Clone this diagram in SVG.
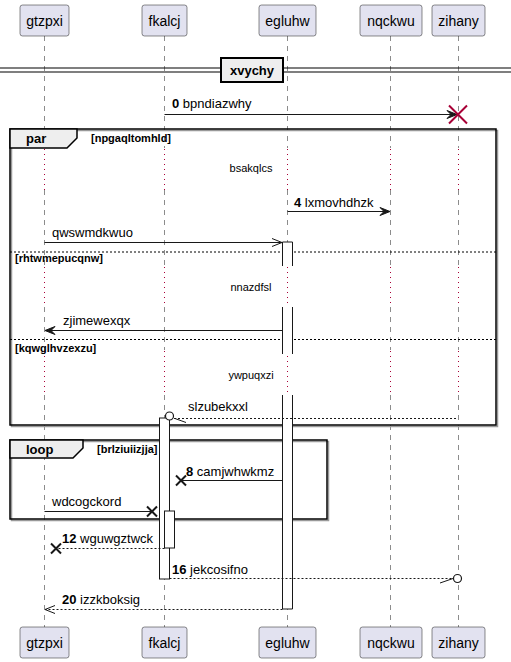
<svg xmlns="http://www.w3.org/2000/svg" width="511" height="662" viewBox="0 0 511 662">
<style>
  .pbox { fill: #E2E2F0; stroke: #181818; stroke-width: 0.5; }
  .pname { font-family: "Liberation Sans", Arial, sans-serif; font-size: 14px; fill: #000; text-anchor: middle; }
  .life { stroke: #181818; stroke-width: 0.5; stroke-dasharray: 5,5; fill: none; }
  .delay { stroke: #A80036; stroke-width: 1; stroke-dasharray: 1,4; fill: none; }
  .msg { stroke: #181818; stroke-width: 1; fill: none; }
  .dash { stroke-dasharray: 2,2; }
  .lbl { font-family: "Liberation Sans", Arial, sans-serif; font-size: 13px; fill: #000; }
  .num { font-weight: bold; }
  .small { font-family: "Liberation Sans", Arial, sans-serif; font-size: 11px; fill: #000; }
  .cond { font-family: "Liberation Sans", Arial, sans-serif; font-size: 11px; font-weight: bold; fill: #000; }
  .frame { fill: none; stroke: #000; stroke-width: 1.5; }
  .tab { fill: #EEEEEE; stroke: #000; stroke-width: 1.5; }
  .tabtxt { font-family: "Liberation Sans", Arial, sans-serif; font-size: 13px; font-weight: bold; fill: #000; }
  .sep { stroke: #000; stroke-width: 1; stroke-dasharray: 2,2; }
  .bar { fill: #FFFFFF; stroke: #181818; stroke-width: 1; }
  .head { fill: #181818; stroke: #181818; stroke-width: 1; }
  .xmark { stroke: #181818; stroke-width: 2; }
  .kill { stroke: #A80036; stroke-width: 2; }
</style>

<!-- lifelines (dashed) with delay segments (dotted) -->
<g id="lifelines">
  <path class="life" d="M44.5,36 V148 M44.5,190 V266 M44.5,307 V350 M44.5,395 V627"/>
  <path class="life" d="M164.5,36 V148 M164.5,190 V266 M164.5,307 V350 M164.5,395 V627"/>
  <path class="life" d="M287.5,36 V148 M287.5,190 V266 M287.5,307 V350 M287.5,395 V627"/>
  <path class="life" d="M390.5,36 V148 M390.5,190 V266 M390.5,307 V350 M390.5,395 V627"/>
  <path class="life" d="M458.5,36 V148 M458.5,190 V266 M458.5,307 V350 M458.5,395 V627"/>
  <path class="delay" d="M44.5,149 V190 M164.5,149 V190 M287.5,149 V190 M390.5,149 V190 M458.5,149 V190"/>
  <path class="delay" d="M44.5,267 V307 M164.5,267 V307 M287.5,267 V307 M390.5,267 V307 M458.5,267 V307"/>
  <path class="delay" d="M44.5,351 V395 M164.5,351 V395 M287.5,351 V395 M390.5,351 V395 M458.5,351 V395"/>
</g>

<!-- participants -->
<g id="gtzpxi">
  <rect class="pbox" x="20" y="5" width="49" height="31" rx="2.5"/>
  <text class="pname" x="44.5" y="26">gtzpxi</text>
  <rect class="pbox" x="20" y="627" width="49" height="31" rx="2.5"/>
  <text class="pname" x="44.5" y="648">gtzpxi</text>
</g>
<g id="fkalcj">
  <rect class="pbox" x="142" y="5" width="45" height="31" rx="2.5"/>
  <text class="pname" x="164.5" y="26">fkalcj</text>
  <rect class="pbox" x="142" y="627" width="45" height="31" rx="2.5"/>
  <text class="pname" x="164.5" y="648">fkalcj</text>
</g>
<g id="egluhw">
  <rect class="pbox" x="259" y="5" width="57" height="31" rx="2.5"/>
  <text class="pname" x="287.5" y="26">egluhw</text>
  <rect class="pbox" x="259" y="627" width="57" height="31" rx="2.5"/>
  <text class="pname" x="287.5" y="648">egluhw</text>
</g>
<g id="nqckwu">
  <rect class="pbox" x="360" y="5" width="62" height="31" rx="2.5"/>
  <text class="pname" x="391" y="26">nqckwu</text>
  <rect class="pbox" x="360" y="627" width="62" height="31" rx="2.5"/>
  <text class="pname" x="391" y="648">nqckwu</text>
</g>
<g id="zihany">
  <rect class="pbox" x="432" y="5" width="53" height="31" rx="2.5"/>
  <text class="pname" x="458.5" y="26">zihany</text>
  <rect class="pbox" x="432" y="627" width="53" height="31" rx="2.5"/>
  <text class="pname" x="458.5" y="648">zihany</text>
</g>

<!-- divider -->
<g id="divider">
  <line x1="0" y1="68" x2="511" y2="68" stroke="#000" stroke-width="1.2"/>
  <line x1="0" y1="72" x2="511" y2="72" stroke="#000" stroke-width="1.2"/>
  <rect x="221" y="58" width="62" height="24" fill="#EEEEEE" stroke="#000" stroke-width="2"/>
  <text class="tabtxt" x="252" y="75" text-anchor="middle">xvychy</text>
</g>

<!-- par fragment -->
<g id="par">
  <rect x="11.5" y="130.5" width="486" height="296" fill="none" stroke="#999" stroke-width="1.5"/>
  <rect class="frame" x="10" y="129" width="486" height="296"/>
  <path class="tab" d="M10,129 H77 V138 L67,148 H10 Z"/>
  <text class="tabtxt" x="26" y="143">par</text>
  <text class="cond" x="91" y="142">[npgaqltomhld]</text>
  <line class="sep" x1="10" y1="252" x2="496" y2="252"/>
  <text class="cond" x="15" y="262">[rhtwmepucqnw]</text>
  <line class="sep" x1="10" y1="339.5" x2="496" y2="339.5"/>
  <text class="cond" x="15" y="352">[kqwglhvzexzu]</text>
  <text class="small" x="251" y="172" text-anchor="middle">bsakqlcs</text>
  <text class="small" x="251" y="291" text-anchor="middle">nnazdfsl</text>
  <text class="small" x="251" y="379" text-anchor="middle">ywpuqxzi</text>
</g>

<!-- loop fragment -->
<g id="loop">
  <rect x="11.5" y="441.5" width="317" height="79" fill="none" stroke="#999" stroke-width="1.5"/>
  <rect class="frame" x="10" y="440" width="317" height="79"/>
  <path class="tab" d="M10,440 H83 V448 L73,458 H10 Z"/>
  <text class="tabtxt" x="26" y="454">loop</text>
  <text class="cond" x="97" y="453">[brlziuiizjja]</text>
</g>

<!-- activation bars -->
<g id="activations">
  <rect x="282.5" y="242" width="10" height="24" fill="#FFF"/>
  <path class="msg" d="M282.5,266 V242 H292.5 V266"/>
  <rect x="282.5" y="307" width="10" height="47" fill="#FFF"/>
  <path class="msg" d="M282.5,307 V354 M292.5,307 V354"/>
  <rect x="282.5" y="395" width="10" height="214" fill="#FFF"/>
  <path class="msg" d="M282.5,395 V609 H292.5 V395"/>
  <rect class="bar" x="159.5" y="418" width="10" height="161"/>
  <rect class="bar" x="164.5" y="511" width="10" height="37"/>
</g>

<!-- messages -->
<g id="connectors">
  <!-- 0 fkalcj -> zihany, destroyed -->
  <line class="msg" x1="164.5" y1="114.5" x2="456" y2="114.5"/>
  <polygon class="head" points="457,114.5 447,110.5 451,114.5 447,118.5"/>
  <path class="kill" d="M449,105.5 L467,123.5 M467,105.5 L449,123.5"/>
  <text class="lbl" x="172" y="108"><tspan class="num">0</tspan> bpndiazwhy</text>

  <!-- 4 egluhw -> nqckwu -->
  <line class="msg" x1="287.5" y1="211.5" x2="389" y2="211.5"/>
  <polygon class="head" points="390,211.5 380,207.5 384,211.5 380,215.5"/>
  <text class="lbl" x="294" y="207"><tspan class="num">4</tspan> lxmovhdhzk</text>

  <!-- gtzpxi -> egluhw async -->
  <line class="msg" x1="44.5" y1="242.5" x2="282" y2="242.5"/>
  <path class="msg" d="M272,238.5 L282,242.5 L272,246.5"/>
  <text class="lbl" x="52" y="237">qwswmdkwuo</text>

  <!-- egluhw -> gtzpxi -->
  <line class="msg" x1="282.5" y1="330.5" x2="46" y2="330.5"/>
  <polygon class="head" points="45,330.5 55,326.5 51,330.5 55,334.5"/>
  <text class="lbl" x="63" y="325">zjimewexqx</text>

  <!-- zihany -> fkalcj, dotted with circle end -->
  <line class="msg dash" x1="174" y1="418.5" x2="456" y2="418.5"/>
  <circle cx="169.5" cy="416" r="4" fill="#FFF" stroke="#181818" stroke-width="1.2"/>
  <line class="msg" x1="175" y1="418.5" x2="186" y2="422.5"/>
  <text class="lbl" x="188" y="411">slzubekxxl</text>

  <!-- 8 egluhw -> lost at fkalcj -->
  <line class="msg" x1="282.5" y1="480.5" x2="181" y2="480.5"/>
  <path class="xmark" d="M176,475.5 L186,485.5 M186,475.5 L176,485.5"/>
  <text class="lbl" x="186" y="476"><tspan class="num">8</tspan> camjwhwkmz</text>

  <!-- gtzpxi -> lost at fkalcj -->
  <line class="msg" x1="44.5" y1="511.5" x2="152" y2="511.5"/>
  <path class="xmark" d="M147,506.5 L157,516.5 M157,506.5 L147,516.5"/>
  <text class="lbl" x="52" y="506">wdcogckord</text>

  <!-- 12 fkalcj -> lost at gtzpxi -->
  <line class="msg dash" x1="164.5" y1="548.5" x2="56" y2="548.5"/>
  <path class="xmark" d="M51,543.5 L61,553.5 M61,543.5 L51,553.5"/>
  <text class="lbl" x="62" y="543"><tspan class="num">12</tspan> wguwgztwck</text>

  <!-- 16 fkalcj -> zihany, dotted with circle end -->
  <line class="msg dash" x1="169.5" y1="578.5" x2="453" y2="578.5"/>
  <line class="msg" x1="440" y1="583" x2="453" y2="578.5"/>
  <circle cx="457.5" cy="578.5" r="4" fill="#FFF" stroke="#181818" stroke-width="1.2"/>
  <text class="lbl" x="172" y="574"><tspan class="num">16</tspan> jekcosifno</text>

  <!-- 20 egluhw -> gtzpxi reply -->
  <line class="msg dash" x1="282.5" y1="609.5" x2="45" y2="609.5"/>
  <path class="msg" d="M55,605.5 L45,609.5 L55,613.5"/>
  <text class="lbl" x="62" y="604"><tspan class="num">20</tspan> izzkboksig</text>
</g>
</svg>
